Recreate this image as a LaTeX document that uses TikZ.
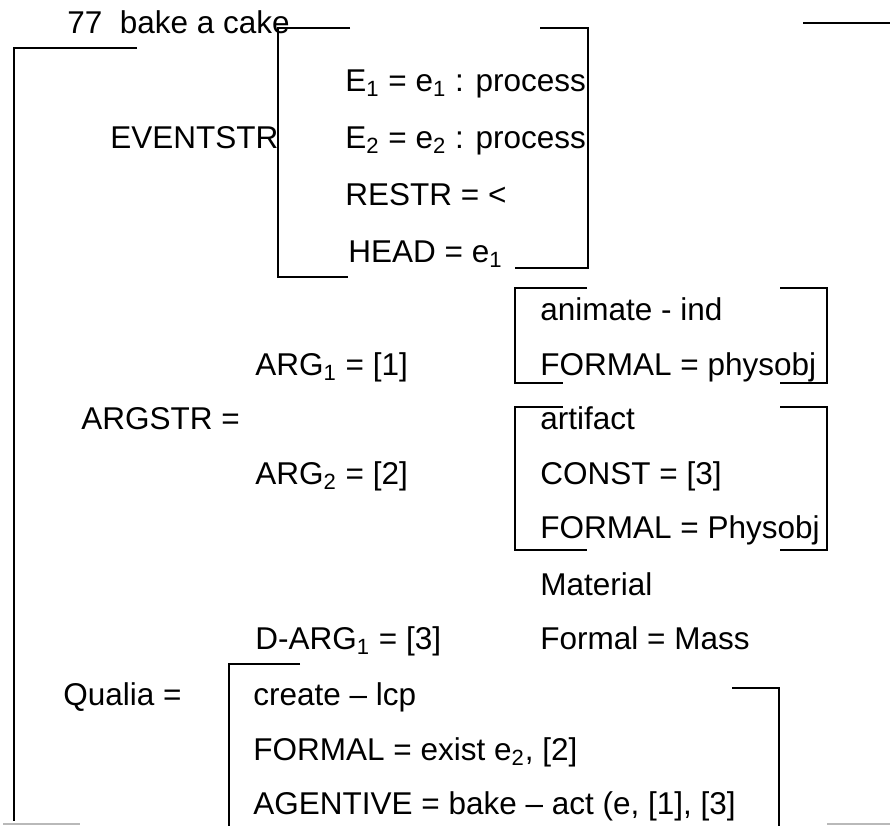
\documentclass[tikz,border=0pt]{standalone}
\usepackage{fontspec}
\setmainfont{Liberation Sans}

\begin{document}
\begin{tikzpicture}[x=0.5pt, y=-0.5pt,
    txt/.style={anchor=base west, inner sep=0pt, font=\fontsize{15.75}{18}\selectfont},
    brk/.style={line width=1pt},
    faint/.style={line width=1pt, gray!55}]
  \useasboundingbox (0,0) rectangle (890,826);

  % heading and outer bracket
  \node[txt] (title) at (67,33) {77\ \ bake a cake};
  \draw[brk] (137,48) -- (14,48) -- (14,821);
  \draw[brk] (803,23) -- (890,23);
  \draw[faint] (3,824) -- (80,824);
  \draw[faint] (827,824) -- (890,824);

  % event structure
  \node[txt] (evstr) at (110,148) {EVENTSTR};
  \node[txt] (eone) at (345,91) {E\textsubscript{1} = e\textsubscript{1} : process};
  \node[txt] (etwo) at (345,148) {E\textsubscript{2} = e\textsubscript{2} : process};
  \node[txt] (restr) at (345,205) {RESTR = <};
  \node[txt] (head) at (348,262) {HEAD = e\textsubscript{1}};
  \draw[brk] (350,28) -- (278,28) -- (278,277) -- (348,277);
  \draw[brk] (540,28) -- (588,28) -- (588,268) -- (515,268);

  % argument structure
  \node[txt] (argstr) at (81,429) {ARGSTR =};
  \node[txt] (argone) at (255,375) {ARG\textsubscript{1} = [1]};
  \node[txt] (argtwo) at (255,484) {ARG\textsubscript{2} = [2]};
  \node[txt] (darg) at (255,649) {D-ARG\textsubscript{1} = [3]};

  \node[txt] (anim) at (540,320) {animate - ind};
  \node[txt] (formone) at (540,375) {FORMAL = physobj};
  \draw[brk] (587,288) -- (515,288) -- (515,383) -- (563,383);
  \draw[brk] (780,288) -- (827,288) -- (827,383) -- (780,383);

  \node[txt] (artif) at (540,429) {artifact};
  \node[txt] (const) at (540,484) {CONST = [3]};
  \node[txt] (formtwo) at (540,538) {FORMAL = Physobj};
  \draw[brk] (563,407) -- (515,407) -- (515,550) -- (587,550);
  \draw[brk] (780,407) -- (827,407) -- (827,550) -- (780,550);

  \node[txt] (mater) at (540,595) {Material};
  \node[txt] (mass) at (540,649) {Formal = Mass};

  % qualia
  \node[txt] (qualia) at (63,705) {Qualia =};
  \node[txt] (create) at (253,705) {create -- lcp};
  \node[txt] (qformal) at (253,760) {FORMAL = exist e\textsubscript{2}, [2]};
  \node[txt] (agent) at (253,814) {AGENTIVE = bake -- act (e, [1], [3]};
  \draw[brk] (300,664) -- (229,664) -- (229,826);
  \draw[brk] (732,688) -- (779,688) -- (779,826);
\end{tikzpicture}
\end{document}
